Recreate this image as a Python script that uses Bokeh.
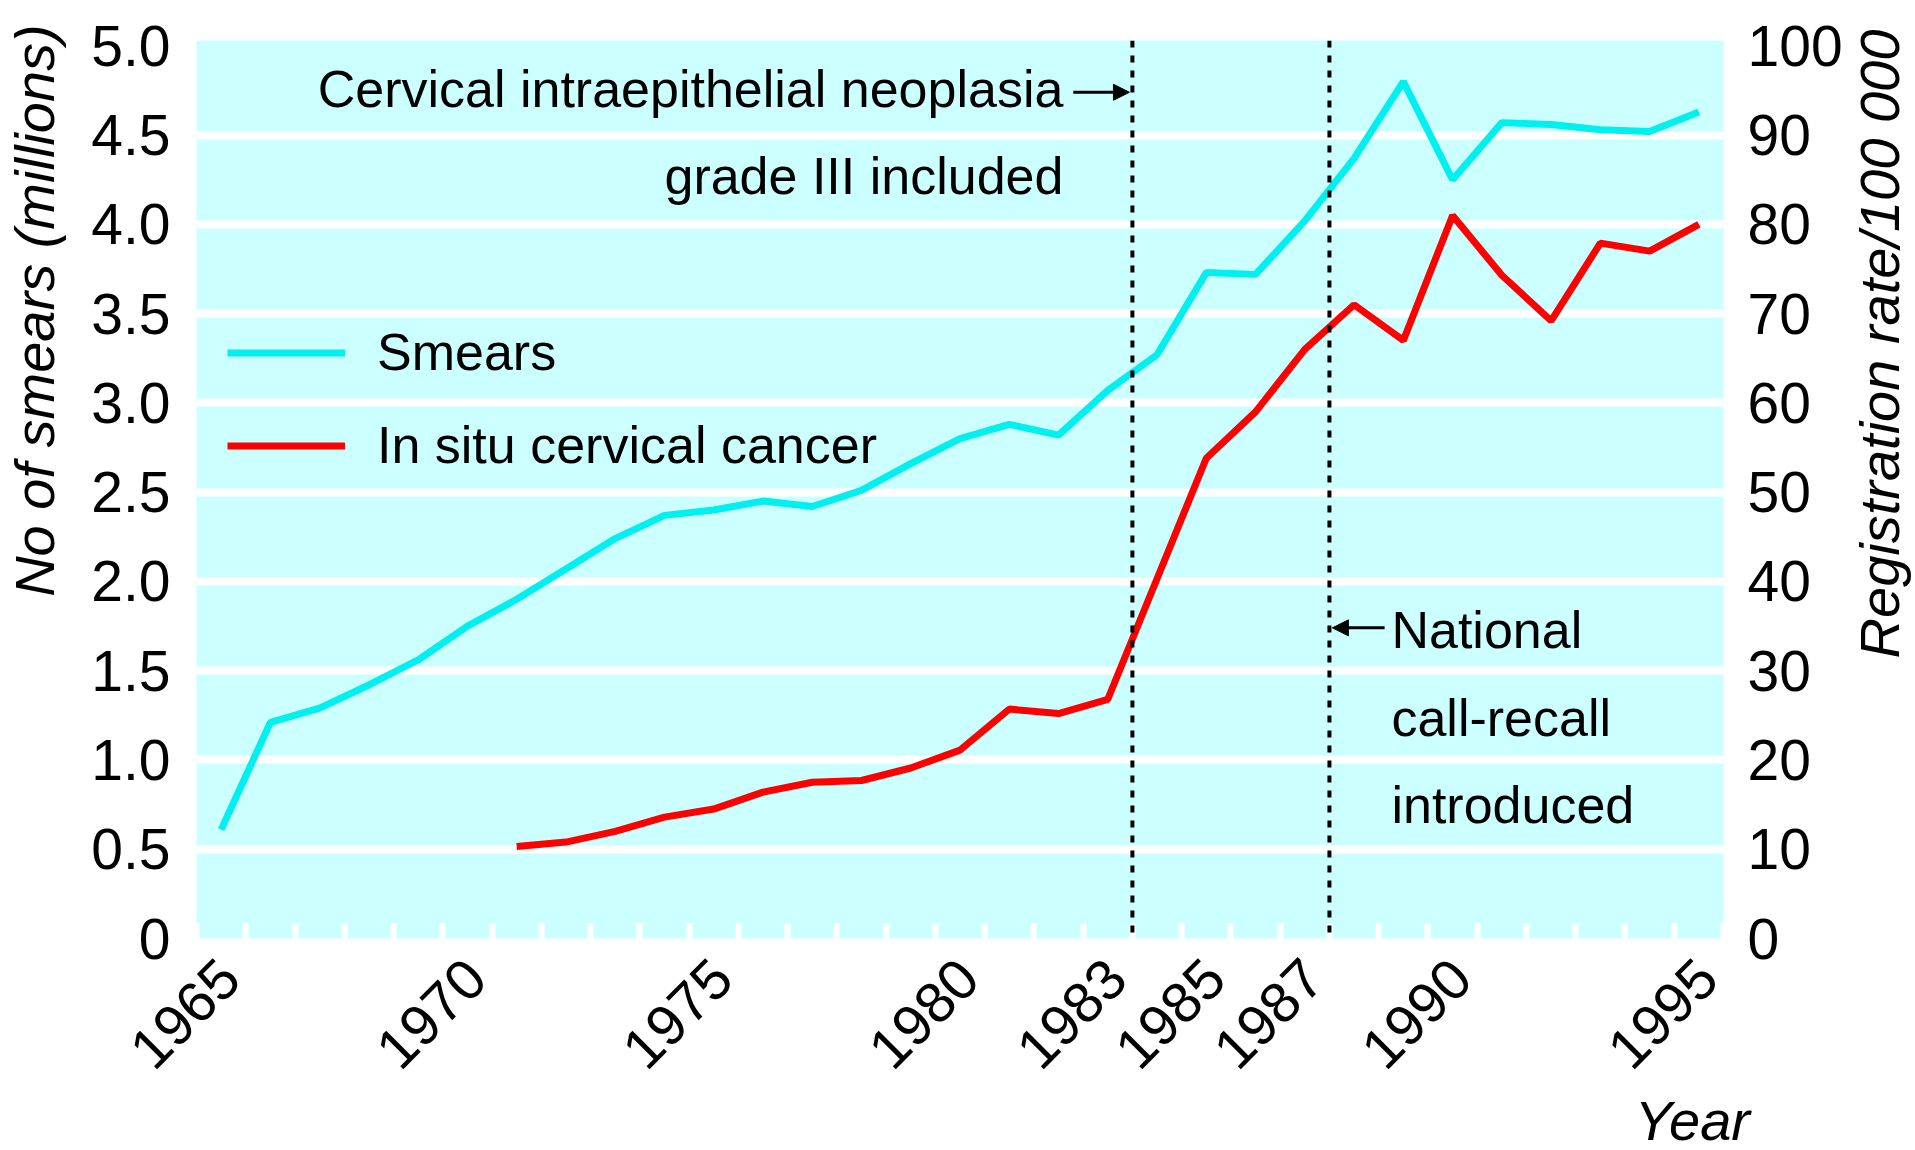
import math
from bokeh.plotting import figure
from bokeh.models import (Range1d, LinearAxis, FixedTicker, Span, Label, Arrow,
                          NormalHead, Legend, LegendItem, CustomJSTickFormatter)
from bokeh.embed import file_html
from bokeh.resources import INLINE

# ---------------- data ----------------
smear_years = list(range(1965, 1996))
smears_millions = [0.61, 1.21, 1.29, 1.42, 1.56, 1.75, 1.90, 2.07, 2.24, 2.37,
                   2.40, 2.45, 2.42, 2.51, 2.66, 2.80, 2.88, 2.82, 3.07, 3.27,
                   3.73, 3.72, 4.02, 4.37, 4.80, 4.25, 4.57, 4.56, 4.53, 4.52,
                   4.63]
cancer_years = list(range(1971, 1996))
cancer_rate = [10.3, 10.8, 12.0, 13.6, 14.5, 16.4, 17.5, 17.7, 19.1, 21.1,
               25.7, 25.2, 26.8, 40.3, 53.8, 59.0, 66.0, 71.0, 67.0, 81.0,
               74.3, 69.2, 77.9, 77.0, 80.0]

x_label_years = [1965, 1970, 1975, 1980, 1983, 1985, 1987, 1990, 1995]
left_ticks = [0, 0.5, 1.0, 1.5, 2.0, 2.5, 3.0, 3.5, 4.0, 4.5, 5.0]
right_ticks = [0, 10, 20, 30, 40, 50, 60, 70, 80, 90, 100]
grid_ticks = [0.5, 1.0, 1.5, 2.0, 2.5, 3.0, 3.5, 4.0, 4.5]

cin_line = 1983.5        # CIN III included
call_line = 1987.5       # national call-recall introduced

left_title = "No of smears (millions)"
right_title = "Registration rate/100 000"
bottom_title = "Year"

# ---------------- styling ----------------
FONT = "Liberation Sans"
TICK_SIZE = "57px"
TEXT_SIZE = "52px"
TITLE_SIZE = "56px"
BG = "#ccffff"
CYAN = "#00f0f0"
RED = "#ff0000"
NBSP = "\u00a0"
LABEL_SHIFT = 0.17       # year-label anchor nudge (style only)

X0, X1 = smear_years[0] - 0.5, smear_years[-1] + 0.5
Y1 = 5.03
RATE_PER_MILLION = 20.0

p = figure(frame_width=1527, frame_height=898,
           x_range=Range1d(X0, X1), y_range=Range1d(0, Y1),
           output_backend="svg", toolbar_location=None,
           min_border_left=195, min_border_right=190,
           min_border_top=40, min_border_bottom=212,
           background_fill_color=BG, border_fill_color="white",
           outline_line_color=None)

p.extra_y_ranges = {"rate": Range1d(0, Y1 * RATE_PER_MILLION)}

# grid
p.xgrid.visible = False
p.ygrid.ticker = FixedTicker(ticks=grid_ticks)
p.ygrid.grid_line_color = "white"
p.ygrid.grid_line_width = 8


def style_axis(ax, standoff):
    ax.axis_line_color = None
    ax.major_tick_line_color = None
    ax.major_label_standoff = standoff
    ax.major_label_text_font = FONT
    ax.major_label_text_font_size = TICK_SIZE
    ax.major_label_text_color = "black"
    ax.axis_label_text_font = FONT
    ax.axis_label_text_font_size = TITLE_SIZE
    ax.axis_label_text_font_style = "italic"
    ax.axis_label_text_color = "black"


has_align = "axis_label_align" in p.yaxis[0].properties()

# left axis (title pushed towards the top with leading no-break spaces)
ya = p.yaxis[0]
ya.ticker = FixedTicker(ticks=left_ticks)
ya.formatter = CustomJSTickFormatter(code="return tick == 0 ? '0' : tick.toFixed(1);")
ya.minor_tick_line_color = None
style_axis(ya, 20)
ya.axis_label = NBSP * 23 + left_title
ya.axis_label_standoff = 22

# right axis (title reads upwards, starting from the bottom of the frame)
ra = LinearAxis(y_range_name="rate", ticker=FixedTicker(ticks=right_ticks))
ra.minor_tick_line_color = None
style_axis(ra, 18)
ra.axis_label = NBSP * 18 + right_title
ra.axis_label_standoff = 34
ra.axis_label_orientation = math.pi / 2
if has_align:
    ra.axis_label_align = "start"
p.add_layout(ra, "right")

# bottom axis
xa = p.xaxis[0]
xa.ticker = FixedTicker(ticks=[y + LABEL_SHIFT for y in x_label_years],
                        minor_ticks=[y - 0.5 for y in smear_years] + [X1])
xa.formatter = CustomJSTickFormatter(code="return Math.floor(tick).toString();")
xa.major_label_orientation = math.pi / 4
xa.minor_tick_in = 15
xa.minor_tick_out = 0
xa.minor_tick_line_color = "white"
xa.minor_tick_line_width = 6
style_axis(xa, 24)
xa.axis_label = bottom_title + NBSP * 4
xa.axis_label_standoff = 0
if has_align:
    xa.axis_label_align = "end"

# event lines
for loc in (cin_line, call_line):
    p.add_layout(Span(location=loc, dimension="height", line_color="black",
                      line_width=4, line_dash="7 8"))

# series
r_smear = p.line(smear_years, smears_millions, line_color=CYAN, line_width=7)
r_cancer = p.line(cancer_years, cancer_rate, y_range_name="rate",
                  line_color=RED, line_width=7)

legend = Legend(items=[LegendItem(label="Smears", renderers=[r_smear]),
                       LegendItem(label="In situ cervical cancer", renderers=[r_cancer])],
                location=(31, 463), orientation="vertical",
                background_fill_alpha=0, border_line_color=None,
                padding=0, margin=0, spacing=33,
                glyph_width=118, glyph_height=55, label_height=55,
                label_standoff=32, label_text_font=FONT,
                label_text_font_size=TEXT_SIZE, label_text_color="black")
p.add_layout(legend)


# annotations
def note(text, x, y, xo, align):
    return Label(x=x, y=y, x_offset=xo, text=text, text_align=align,
                 text_baseline="middle", text_font=FONT,
                 text_font_size=TEXT_SIZE, text_color="black")


p.add_layout(note("Cervical intraepithelial neoplasia", cin_line, 4.76, -69, "right"))
p.add_layout(note("grade III included", cin_line, 4.27, -69, "right"))
p.add_layout(note("National", call_line, 1.73, 62, "left"))
p.add_layout(note("call-recall", call_line, 1.235, 62, "left"))
p.add_layout(note("introduced", call_line, 0.745, 62, "left"))

p.add_layout(Arrow(x_start=cin_line - 1.2, y_start=4.74, x_end=cin_line - 0.06, y_end=4.74,
                   line_color="black", line_width=3,
                   end=NormalHead(size=16, fill_color="black", line_color="black")))
p.add_layout(Arrow(x_start=call_line + 1.12, y_start=1.74, x_end=call_line + 0.06, y_end=1.74,
                   line_color="black", line_width=3,
                   end=NormalHead(size=16, fill_color="black", line_color="black")))

open("out.html", "w").write(file_html(p, INLINE))
